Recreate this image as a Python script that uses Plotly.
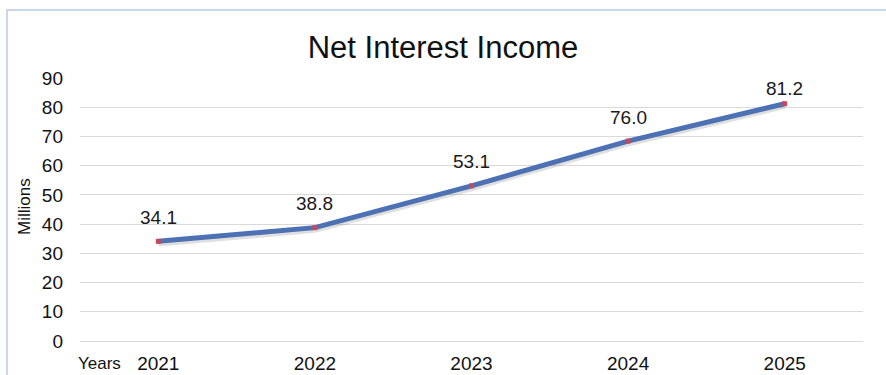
import plotly.graph_objects as go

years = ["2021", "2022", "2023", "2024", "2025"]
values = [34.1, 38.8, 53.1, 68.4, 81.2]
labels = ["34.1", "38.8", "53.1", "76.0", "81.2"]
y_ticks = [0, 10, 20, 30, 40, 50, 60, 70, 80, 90]

W, H = 886, 375
L, R, T, B = 80, 23, 78, 34
PW, PH = W - L - R, H - T - B
FONT = "Liberation Sans, Arial, sans-serif"

fig = go.Figure()
# soft shadow under line
fig.add_trace(go.Scatter(
    x=years, y=values, mode="lines",
    line=dict(color="rgba(110,110,110,0.22)", width=7),
    hoverinfo="skip", showlegend=False, yaxis="y2"))
fig.add_trace(go.Scatter(
    x=years, y=values, mode="lines+markers",
    line=dict(color="#4472C4", width=5),
    marker=dict(symbol="square", size=5, color="#D0455A"),
    showlegend=False))

for i, (v, t) in enumerate(zip(values, labels)):
    fig.add_annotation(x=i, y=v, text=t, showarrow=False,
                       xanchor="center", yanchor="middle",
                       yshift=15 if i == len(values) - 1 else 24,
                       font=dict(family=FONT, size=19, color="#1a1a1a"))

fig.add_annotation(xref="paper", yref="paper", x=(99 - L) / PW, y=0,
                   yshift=-22, text="Years", showarrow=False,
                   xanchor="center", yanchor="middle",
                   font=dict(family=FONT, size=17, color="#111111"))
fig.add_annotation(xref="paper", yref="paper", x=-(L - 24) / PW, y=(H - B - 207) / PH,
                   text="Millions", textangle=-90, showarrow=False,
                   xanchor="center", yanchor="middle",
                   font=dict(family=FONT, size=17, color="#111111"))

# outer frame
fig.add_shape(type="rect", xref="paper", yref="paper",
              x0=-(L - 7) / PW, x1=1 + (R + 3) / PW,
              y0=-(B + 5) / PH, y1=1 + (T - 10) / PH,
              line=dict(color="#C9D7EC", width=2), layer="below")

fig.update_layout(
    width=W, height=H,
    margin=dict(l=L, r=R, t=T, b=B, autoexpand=False),
    paper_bgcolor="white", plot_bgcolor="white",
    title=dict(text="Net Interest Income", x=0.5, xanchor="center",
               y=1 - 47 / H, yanchor="middle",
               font=dict(family=FONT, size=31, color="#111111")),
    xaxis=dict(type="category", range=[-0.5, 4.5], showgrid=False, showline=False,
               zeroline=False, ticks="", automargin=False, ticklabelstandoff=9,
               tickfont=dict(family=FONT, size=19, color="#111111")),
    yaxis=dict(range=[0, 90], tickvals=y_ticks, showgrid=True, gridcolor="#D9D9D9",
               gridwidth=1, zeroline=True, zerolinecolor="#D9D9D9", zerolinewidth=1,
               automargin=False,
               tickfont=dict(family=FONT, size=19, color="#111111"),
               ticklabelstandoff=16),
    yaxis2=dict(range=[0.6, 90.6], overlaying="y", visible=False),
)

fig.write_html("out.html")
